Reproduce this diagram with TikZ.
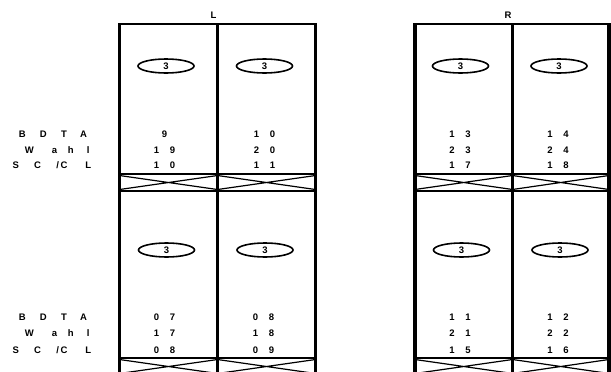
\documentclass[tikz,border=0pt]{standalone}
\usepackage{fontspec}
\setmainfont{Liberation Sans}
\usetikzlibrary{shapes.geometric}
\newcommand\dd[2]{\makebox[16pt]{#1}\makebox[16pt]{#2}}
\newcommand\putat[2]{\makebox[0pt][l]{\hspace{#1}\makebox[0pt]{#2}}}
\tikzset{
  txt/.style={font=\bfseries\fontsize{9.5}{11}\selectfont, inner sep=0pt},
  rowlbl/.style={txt, anchor=west},
  oval/.style={ellipse, draw, line width=1.6pt, minimum width=56pt, minimum height=14pt,
               inner sep=0pt, font=\bfseries\fontsize{9.5}{11}\selectfont},
  post/.style={line width=3.4pt},
  beam/.style={line width=2.2pt},
  brace/.style={line width=1.2pt},
}
\newcommand\rowA{\putat{21.7pt}{B}\putat{42.7pt}{D}\putat{63.3pt}{T}\putat{82.9pt}{A}}
\newcommand\rowB{\putat{28.7pt}{W}\putat{53.7pt}{a}\putat{70pt}{h}\putat{87.6pt}{l}}
\newcommand\rowC{\putat{15pt}{S}\putat{36.8pt}{C}\putat{57pt}{/}\putat{63.3pt}{C}\putat{87.6pt}{L}}
\begin{document}
\begin{tikzpicture}[x=1pt,y=-1pt]
\useasboundingbox (0,0) rectangle (611,372);
\clip (0,0) rectangle (611,372);
% ---- structure of both blocks
\foreach \a/\b/\c in {119.5/217.5/315.5, 415/512.5/609}{
  \draw[beam] (\a-1.5,24) -- (\c+1.5,24);
  \foreach \x in {\a,\b,\c} \draw[post] (\x,23) -- (\x,385);
  \foreach \t/\u in {174/191, 358/375}{
    \draw[beam] (\a,\t) -- (\c,\t);
    \draw[beam] (\a,\u) -- (\c,\u);
    \draw[brace] (\a,\t+1.5) -- (\b,\u-1.5) (\a,\u-1.5) -- (\b,\t+1.5)
                 (\b,\t+1.5) -- (\c,\u-1.5) (\b,\u-1.5) -- (\c,\t+1.5);
  }
}
% ---- block titles
\node[txt] (tL) at (213.5,15) {L};
\node[txt] (tR) at (508,15) {R};
% ---- ovals
\node[oval] (o1) at (166,66) {3};
\node[oval] (o2) at (264.5,66) {3};
\node[oval] (o3) at (460.5,66) {3};
\node[oval] (o4) at (559,66) {3};
\node[oval] (o5) at (166.5,250) {3};
\node[oval] (o6) at (265,250) {3};
\node[oval] (o7) at (461.5,250) {3};
\node[oval] (o8) at (560,250) {3};
% ---- row labels
\node[rowlbl] (la1) at (0,134) {\rowA};
\node[rowlbl] (lb1) at (0,150) {\rowB};
\node[rowlbl] (lc1) at (0,165.5) {\rowC};
\node[rowlbl] (la2) at (0,317) {\rowA};
\node[rowlbl] (lb2) at (0,333.5) {\rowB};
\node[rowlbl] (lc2) at (0,350) {\rowC};
% ---- numbers, upper
\node[txt] (n1a) at (164.5,134) {9};
\node[txt] (n1b) at (164.5,150) {\dd19};
\node[txt] (n1c) at (164.5,165.5) {\dd10};
\node[txt] (n2a) at (264.5,134) {\dd10};
\node[txt] (n2b) at (264.5,150) {\dd20};
\node[txt] (n2c) at (264.5,165.5) {\dd11};
\node[txt] (n3a) at (460,134) {\dd13};
\node[txt] (n3b) at (460,150) {\dd23};
\node[txt] (n3c) at (460,165.5) {\dd17};
\node[txt] (n4a) at (558,134) {\dd14};
\node[txt] (n4b) at (558,150) {\dd24};
\node[txt] (n4c) at (558,165.5) {\dd18};
% ---- numbers, lower
\node[txt] (n5a) at (164.5,317) {\dd07};
\node[txt] (n5b) at (164.5,333.5) {\dd17};
\node[txt] (n5c) at (164.5,350) {\dd08};
\node[txt] (n6a) at (263.5,317) {\dd08};
\node[txt] (n6b) at (263.5,333.5) {\dd18};
\node[txt] (n6c) at (263.5,350) {\dd09};
\node[txt] (n7a) at (460,317) {\dd11};
\node[txt] (n7b) at (460,333.5) {\dd21};
\node[txt] (n7c) at (460,350) {\dd15};
\node[txt] (n8a) at (558,317) {\dd12};
\node[txt] (n8b) at (558,333.5) {\dd22};
\node[txt] (n8c) at (558,350) {\dd16};
\end{tikzpicture}
\end{document}
